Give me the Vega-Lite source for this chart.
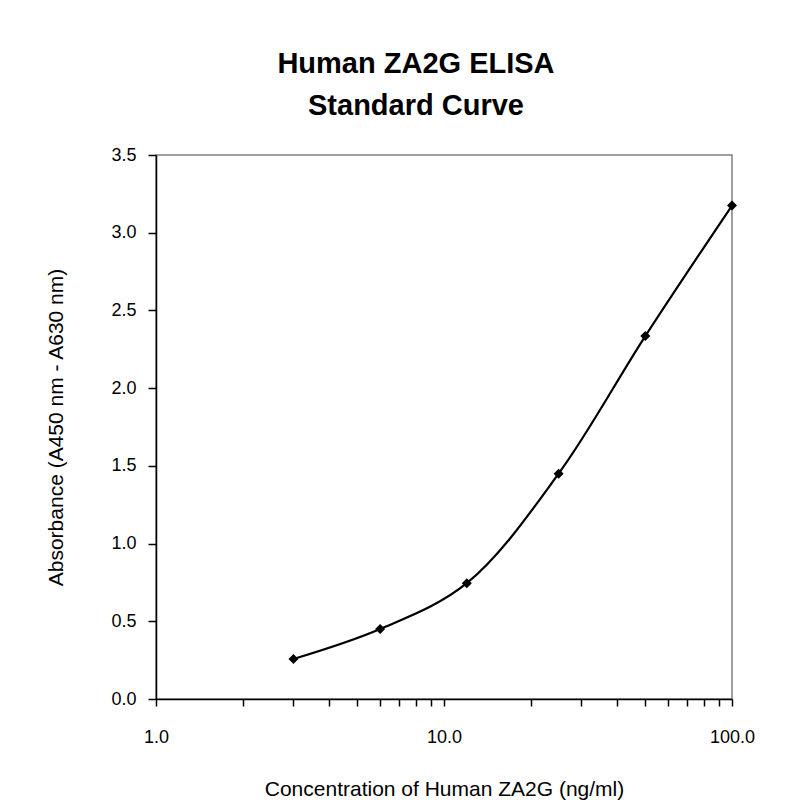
{
  "$schema": "https://vega.github.io/schema/vega-lite/v6.json",
  "width": 576,
  "height": 544,
  "autosize": {"type": "none"},
  "padding": {"left": 156, "top": 155, "right": 76, "bottom": 113},
  "background": "white",
  "title": {
    "text": ["Human ZA2G ELISA", "Standard Curve"],
    "font": "Liberation Sans",
    "fontSize": 29,
    "fontWeight": "bold",
    "color": "black",
    "anchor": "middle",
    "dx": -28,
    "offset": 25,
    "lineHeight": 42
  },
  "data": {
    "values": [
      {"conc": 3, "abs": 0.257},
      {"conc": 6, "abs": 0.45},
      {"conc": 12, "abs": 0.745},
      {"conc": 25, "abs": 1.45},
      {"conc": 50, "abs": 2.335},
      {"conc": 100, "abs": 3.175}
    ]
  },
  "encoding": {
    "x": {
      "field": "conc",
      "type": "quantitative",
      "scale": {"type": "log", "domain": [1, 100]},
      "axis": {
        "values": [1, 2, 3, 4, 5, 6, 7, 8, 9, 10, 20, 30, 40, 50, 60, 70, 80, 90, 100],
        "format": ".1f",
        "labelExpr": "(datum.value == 1 || datum.value == 10 || datum.value == 100) ? datum.label : ''",
        "labelOverlap": false,
        "labelFlush": false,
        "tickSize": 7,
        "labelPadding": 22,
        "title": "Concentration of Human ZA2G (ng/ml)",
        "titlePadding": 32
      }
    },
    "y": {
      "field": "abs",
      "type": "quantitative",
      "scale": {"domain": [0, 3.5], "nice": false},
      "axis": {
        "values": [0, 0.5, 1, 1.5, 2, 2.5, 3, 3.5],
        "format": ".1f",
        "tickSize": 8,
        "labelPadding": 12,
        "title": "Absorbance (A450 nm - A630 nm)",
        "titlePadding": 44
      }
    }
  },
  "layer": [
    {"mark": {"type": "line", "interpolate": "catmull-rom", "color": "black", "strokeWidth": 2.2}},
    {"mark": {"type": "point", "shape": "diamond", "filled": true, "color": "black", "size": 100, "opacity": 1}}
  ],
  "config": {
    "view": {"stroke": "#808080", "strokeWidth": 1.5},
    "axis": {
      "grid": false,
      "domainColor": "black",
      "domainWidth": 1.5,
      "tickColor": "black",
      "tickWidth": 1.5,
      "labelFont": "Liberation Sans",
      "titleFont": "Liberation Sans",
      "labelColor": "black",
      "titleColor": "black",
      "labelFontSize": 18,
      "titleFontSize": 21,
      "titleFontWeight": "normal"
    }
  }
}
